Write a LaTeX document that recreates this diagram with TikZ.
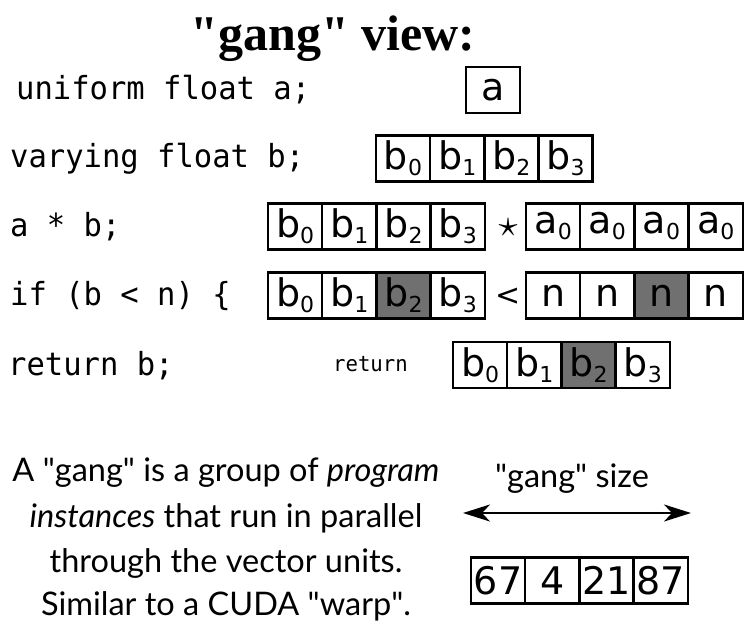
\documentclass[tikz,border=0pt]{standalone}
\usepackage{fontspec}
\usepackage{graphicx}
\usetikzlibrary{arrows.meta}
\setmainfont{Lato}
\newfontfamily\codefont[FakeStretch=0.96]{DejaVu Sans Mono}
\newfontfamily\cellfont{DejaVu Sans}
\newfontfamily\titlefont{Liberation Serif}
\definecolor{cellgray}{RGB}{112,112,112}
\newcommand{\sbs}[1]{\raisebox{-6pt}{\fontsize{22}{22}\selectfont #1}}
\newcommand{\qq}{\textquotedbl}
\begin{document}
\begin{tikzpicture}[x=1pt,y=-1pt,
  cell/.style={draw, line width=2.5pt, minimum width=54.2pt, minimum height=46pt,
    inner sep=0pt, font=\cellfont\fontsize{38}{38}\selectfont},
  hl/.style={fill=cellgray},
  code/.style={anchor=base west, inner sep=0pt, font=\codefont\fontsize{31.8}{31.8}\selectfont},
  smallcode/.style={anchor=base west, inner sep=0pt, font=\codefont\fontsize{21.5}{21.5}\selectfont},
  para/.style={anchor=base, inner sep=0pt, font=\fontsize{32.5}{32.5}\selectfont},
  op/.style={inner sep=0pt, font=\cellfont\fontsize{30}{30}\selectfont},
  gangarrow/.style={line width=2.5pt, {Stealth[length=27pt,width=17pt,inset=8pt]}-{Stealth[length=27pt,width=17pt,inset=8pt]}}
]
\useasboundingbox (0,0) rectangle (744,629);

% title
\node[anchor=base, inner sep=0pt, font=\titlefont\bfseries\fontsize{50}{50}\selectfont] (title) at (333,50) {\qq gang\qq\ view:};

% code lines
\node[code] (c1) at (16,99) {uniform float a;};
\node[code] (c2) at (10,167) {varying float b;};
\node[code] (c3) at (10,236) {a * b;};
\node[code] (c4) at (10,305) {if (b < n) \{};
\node[code] (c5) at (8,375) {return b;};

% row 1
\node[cell] (r1) at (493,90) {a};

% row 2
\node[cell] (r2a) at (403,158.5) {b\sbs{0}};
\node[cell] (r2b) at (457.2,158.5) {b\sbs{1}};
\node[cell] (r2c) at (511.4,158.5) {b\sbs{2}};
\node[cell] (r2d) at (565.6,158.5) {b\sbs{3}};

% row 3
\node[cell] (r3a) at (295.1,226.5) {b\sbs{0}};
\node[cell] (r3b) at (349.3,226.5) {b\sbs{1}};
\node[cell] (r3c) at (403.5,226.5) {b\sbs{2}};
\node[cell] (r3d) at (457.7,226.5) {b\sbs{3}};
\node[inner sep=0pt] (star) at (508,228) {\scalebox{3.8}{$\star$}};
\node[cell] (r3e) at (553.1,226.5) {a\sbs{0}};
\node[cell] (r3f) at (607.3,226.5) {a\sbs{0}};
\node[cell] (r3g) at (661.5,226.5) {a\sbs{0}};
\node[cell] (r3h) at (715.7,226.5) {a\sbs{0}};

% row 4
\node[cell] (r4a) at (295.1,295.5) {b\sbs{0}};
\node[cell] (r4b) at (349.3,295.5) {b\sbs{1}};
\node[cell,hl] (r4c) at (403.5,295.5) {b\sbs{2}};
\node[cell] (r4d) at (457.7,295.5) {b\sbs{3}};
\node[op] (lt) at (508,297) {<};
\node[cell] (r4e) at (553.1,295.5) {n};
\node[cell] (r4f) at (607.3,295.5) {n};
\node[cell,hl] (r4g) at (661.5,295.5) {n};
\node[cell] (r4h) at (715.7,295.5) {n};

% row 5
\node[smallcode] (ret) at (333,371) {return};
\node[cell] (r5a) at (480.1,365) {b\sbs{0}};
\node[cell] (r5b) at (534.3,365) {b\sbs{1}};
\node[cell,hl] (r5c) at (588.5,365) {b\sbs{2}};
\node[cell] (r5d) at (642.7,365) {b\sbs{3}};

% paragraph
\node[para] (p1) at (226,481) {A \qq gang\qq\ is a group of \textit{program}};
\node[para] (p2) at (226,527) {\textit{instances} that run in parallel};
\node[para] (p3) at (226,572) {through the vector units.};
\node[para] (p4) at (226,615) {Similar to a CUDA \qq warp\qq.};

% gang size
\node[para] (gs) at (572,487) {\qq gang\qq\ size};
\coordinate (al) at (463,513);
\coordinate (ar) at (691,513);
\draw[gangarrow] (al) -- (ar);

\node[cell] (g1) at (498.1,580.5) {67};
\node[cell] (g2) at (552.3,580.5) {4};
\node[cell] (g3) at (606.5,580.5) {21};
\node[cell] (g4) at (660.7,580.5) {87};
\end{tikzpicture}
\end{document}
